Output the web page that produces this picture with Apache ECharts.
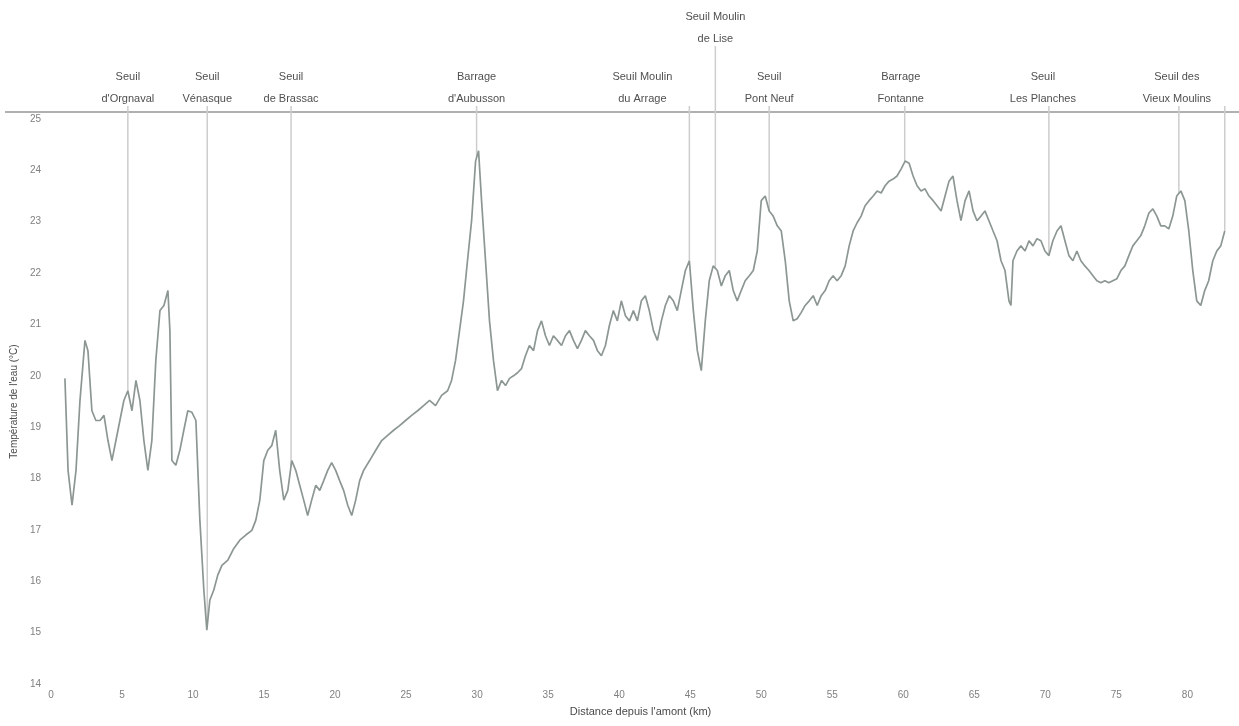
<!DOCTYPE html>
<html>
<head>
<meta charset="utf-8">
<script src="https://cdn.jsdelivr.net/npm/echarts@6/dist/echarts.min.js"></script>
<style>
  html, body { margin: 0; padding: 0; background: #fff; }
  #chart { width: 1239px; height: 726px; }
</style>
</head>
<body>
<div id="chart"></div>
<script>
// Longitudinal water-temperature profile along the river (km from upstream)
const distanceKm = [
  0.98, 1.20, 1.48, 1.76, 2.04, 2.39, 2.60, 2.88, 3.16, 3.45, 3.73, 4.01, 4.29, 4.57, 4.85, 5.13, 5.41, 5.70, 5.98, 6.26,
  6.54, 6.82, 7.10, 7.38, 7.67, 7.95, 8.23, 8.37, 8.51, 8.79, 9.07, 9.35, 9.63, 9.92, 10.20, 10.48, 10.76, 10.97, 11.18, 11.46,
  11.74, 12.03, 12.45, 12.87, 13.29, 13.71, 14.14, 14.42, 14.70, 14.98, 15.26, 15.54, 15.82, 16.10, 16.39, 16.67, 16.95, 17.23, 17.51, 17.79,
  18.07, 18.35, 18.64, 18.92, 19.20, 19.48, 19.76, 20.04, 20.32, 20.60, 20.89, 21.17, 21.45, 21.73, 22.01, 22.43, 22.86, 23.28, 23.70, 24.12,
  24.54, 24.96, 25.39, 25.81, 26.23, 26.65, 27.07, 27.50, 27.92, 28.20, 28.48, 28.76, 29.04, 29.32, 29.61, 29.89, 30.10, 30.31, 30.59, 30.87,
  31.15, 31.43, 31.72, 32.00, 32.28, 32.56, 32.84, 33.12, 33.40, 33.68, 33.97, 34.25, 34.53, 34.81, 35.09, 35.37, 35.65, 35.94, 36.22, 36.50,
  36.78, 37.06, 37.34, 37.62, 37.90, 38.19, 38.47, 38.75, 39.03, 39.31, 39.59, 39.87, 40.15, 40.44, 40.72, 41.00, 41.28, 41.56, 41.84, 42.12,
  42.41, 42.69, 42.97, 43.25, 43.53, 43.81, 44.09, 44.37, 44.66, 44.94, 45.22, 45.50, 45.78, 46.06, 46.34, 46.62, 46.91, 47.19, 47.47, 47.75,
  48.03, 48.31, 48.59, 48.87, 49.16, 49.44, 49.72, 50.00, 50.28, 50.56, 50.84, 51.13, 51.41, 51.69, 51.97, 52.25, 52.53, 52.81, 53.09, 53.38,
  53.66, 53.94, 54.22, 54.50, 54.78, 55.06, 55.34, 55.63, 55.91, 56.19, 56.47, 56.75, 57.03, 57.31, 57.59, 57.88, 58.16, 58.44, 58.72, 59.00,
  59.28, 59.56, 59.85, 60.13, 60.41, 60.69, 60.97, 61.25, 61.53, 61.81, 62.10, 62.38, 62.66, 62.94, 63.22, 63.50, 63.78, 64.06, 64.35, 64.63,
  64.91, 65.19, 65.47, 65.75, 66.03, 66.32, 66.60, 66.88, 67.16, 67.44, 67.58, 67.72, 68.00, 68.28, 68.57, 68.85, 69.13, 69.41, 69.69, 69.97,
  70.25, 70.53, 70.82, 71.10, 71.38, 71.66, 71.94, 72.22, 72.50, 72.78, 73.07, 73.35, 73.63, 73.91, 74.19, 74.47, 74.75, 75.04, 75.32, 75.60,
  75.88, 76.16, 76.44, 76.72, 77.00, 77.29, 77.57, 77.85, 78.13, 78.41, 78.69, 78.97, 79.25, 79.54, 79.82, 80.10, 80.38, 80.66, 80.94, 81.22,
  81.50, 81.79, 82.07, 82.35, 82.63
];

const temperatureC = [
  19.95, 18.16, 17.48, 18.16, 19.52, 20.69, 20.49, 19.32, 19.13, 19.13, 19.23, 18.74, 18.35, 18.74, 19.13, 19.52, 19.71, 19.32, 19.91, 19.52,
  18.74, 18.16, 18.74, 20.30, 21.27, 21.37, 21.66, 20.88, 18.35, 18.26, 18.55, 18.94, 19.32, 19.29, 19.13, 17.19, 15.83, 15.05, 15.63, 15.83,
  16.12, 16.31, 16.41, 16.64, 16.80, 16.90, 16.99, 17.19, 17.58, 18.35, 18.55, 18.64, 18.94, 18.16, 17.58, 17.77, 18.35, 18.16, 17.87, 17.58,
  17.28, 17.58, 17.87, 17.77, 17.96, 18.16, 18.31, 18.16, 17.96, 17.77, 17.48, 17.28, 17.58, 17.96, 18.16, 18.35, 18.55, 18.74, 18.84, 18.94,
  19.03, 19.13, 19.23, 19.32, 19.42, 19.52, 19.42, 19.62, 19.71, 19.91, 20.30, 20.88, 21.46, 22.24, 23.02, 24.18, 24.38, 23.41, 22.24, 21.07,
  20.30, 19.71, 19.91, 19.81, 19.95, 20.00, 20.06, 20.14, 20.39, 20.59, 20.49, 20.88, 21.07, 20.78, 20.59, 20.78, 20.69, 20.59, 20.78, 20.88,
  20.69, 20.53, 20.69, 20.88, 20.78, 20.69, 20.49, 20.39, 20.59, 20.98, 21.27, 21.07, 21.46, 21.17, 21.07, 21.27, 21.07, 21.46, 21.56, 21.27,
  20.88, 20.69, 21.07, 21.37, 21.56, 21.46, 21.27, 21.66, 22.05, 22.24, 21.27, 20.49, 20.10, 21.07, 21.85, 22.14, 22.05, 21.75, 21.95, 22.05,
  21.66, 21.46, 21.66, 21.85, 21.95, 22.05, 22.43, 23.41, 23.50, 23.21, 23.11, 22.92, 22.82, 22.24, 21.46, 21.07, 21.11, 21.23, 21.37, 21.46,
  21.56, 21.37, 21.56, 21.66, 21.85, 21.95, 21.85, 21.95, 22.14, 22.53, 22.82, 22.98, 23.11, 23.31, 23.41, 23.50, 23.60, 23.56, 23.70, 23.79,
  23.83, 23.89, 24.03, 24.18, 24.14, 23.89, 23.70, 23.60, 23.64, 23.50, 23.41, 23.31, 23.21, 23.50, 23.79, 23.89, 23.41, 23.02, 23.41, 23.60,
  23.21, 23.02, 23.11, 23.21, 23.02, 22.82, 22.63, 22.24, 22.05, 21.46, 21.37, 22.24, 22.43, 22.53, 22.43, 22.63, 22.53, 22.67, 22.63, 22.43,
  22.34, 22.63, 22.82, 22.92, 22.63, 22.34, 22.24, 22.43, 22.24, 22.14, 22.05, 21.95, 21.85, 21.81, 21.85, 21.81, 21.85, 21.89, 22.05, 22.14,
  22.34, 22.53, 22.63, 22.73, 22.92, 23.17, 23.25, 23.11, 22.92, 22.92, 22.86, 23.11, 23.50, 23.60, 23.41, 22.82, 22.05, 21.46, 21.37, 21.66,
  21.85, 22.24, 22.43, 22.53, 22.82
];

// Weirs and dams along the reach
const structureKm = [5.41, 11.00, 16.90, 29.96, 44.94, 46.77, 50.56, 60.10, 70.25, 79.40, 82.63];
const structureNames = [
  'Seuil\nd\'Orgnaval',
  'Seuil\nVénasque',
  'Seuil\nde Brassac',
  'Barrage\nd\'Aubusson',
  'Seuil Moulin\ndu Arrage',
  'Seuil Moulin\nde Lise',
  'Seuil\nPont Neuf',
  'Barrage\nFontanne',
  'Seuil\nLes Planches',
  'Seuil des\nVieux Moulins',
  ''
];

// Axis ranges and ticks
const Y_MIN = 14, Y_MAX = 25, Y_STEP = 1;
const X_MIN = 0, X_MAX = 83, X_STEP = 5;

// Label placement for each structure (horizontal shift, extra lift of the leader line)
const labelShift = [0, 0, 0, 0, -47, 0, 0, -4, -6, -2, 0];
const labelLift = [0, 0, 0, 0, 0, 60, 0, 0, 0, 0, 0];

function tempAt(km) {
  for (let i = 1; i < distanceKm.length; i++) {
    if (distanceKm[i] >= km) {
      const a = distanceKm[i - 1], b = distanceKm[i];
      const f = (km - a) / (b - a);
      return temperatureC[i - 1] + f * (temperatureC[i] - temperatureC[i - 1]);
    }
  }
  return temperatureC[temperatureC.length - 1];
}

const profile = distanceKm.map((d, i) => [d, temperatureC[i]]);
const structures = structureKm.map((k, i) => [k, tempAt(k), i]);

const FONT = '"Liberation Sans", Arial, sans-serif';
const chart = echarts.init(document.getElementById('chart'), null, { renderer: 'canvas' });

chart.setOption({
  backgroundColor: '#ffffff',
  animation: false,
  grid: { left: 51, right: 9, top: 119, bottom: 42, containLabel: false },
  xAxis: {
    type: 'value',
    min: X_MIN, max: X_MAX, interval: X_STEP,
    name: 'Distance depuis l\'amont (km)',
    nameLocation: 'middle', nameGap: 22,
    nameTextStyle: { fontFamily: FONT, fontSize: 11, color: '#4a4a4a' },
    axisLine: { show: false },
    axisTick: { show: false },
    splitLine: { show: false },
    axisLabel: { fontFamily: FONT, fontSize: 10, color: '#808080', margin: 6, showMaxLabel: false }
  },
  yAxis: {
    type: 'value',
    min: Y_MIN, max: Y_MAX, interval: Y_STEP,
    name: 'Température de l\'eau (°C)',
    nameLocation: 'middle', nameGap: 26, nameRotate: 90,
    nameTextStyle: { fontFamily: FONT, fontSize: 10, color: '#4a4a4a' },
    axisLine: { show: false },
    axisTick: { show: false },
    splitLine: { show: false },
    axisLabel: { fontFamily: FONT, fontSize: 10, color: '#808080', margin: 10 }
  },
  graphic: [{
    type: 'line',
    shape: { x1: 5, y1: 112, x2: 1239, y2: 112 },
    style: { stroke: '#b0b0b0', lineWidth: 2 },
    z: 1
  }],
  series: [
    {
      type: 'custom',
      coordinateSystem: 'cartesian2d',
      clip: false,
      z: 2,
      encode: { x: 0, y: 1 },
      data: structures,
      renderItem: function (params, api) {
        const km = api.value(0), t = api.value(1), i = api.value(2);
        const p = api.coord([km, t]);
        const top = api.coord([km, Y_MAX])[1];
        const lineTop = top - 13 - labelLift[i];
        const children = [{
          type: 'line',
          shape: { x1: p[0], y1: lineTop, x2: p[0], y2: p[1] },
          style: { stroke: '#cdcdcd', lineWidth: 1.5 }
        }];
        if (structureNames[i]) {
          children.push({
            type: 'text',
            x: p[0] + labelShift[i],
            y: lineTop + 4,
            style: {
              text: structureNames[i],
              align: 'center',
              verticalAlign: 'bottom',
              fontFamily: FONT,
              fontSize: 11,
              lineHeight: 22,
              fill: '#4f4f4f'
            }
          });
        }
        return { type: 'group', children: children };
      }
    },
    {
      type: 'line',
      data: profile,
      z: 3,
      symbol: 'none',
      lineStyle: { color: '#8c9792', width: 1.7 }
    }
  ]
});
</script>
</body>
</html>
